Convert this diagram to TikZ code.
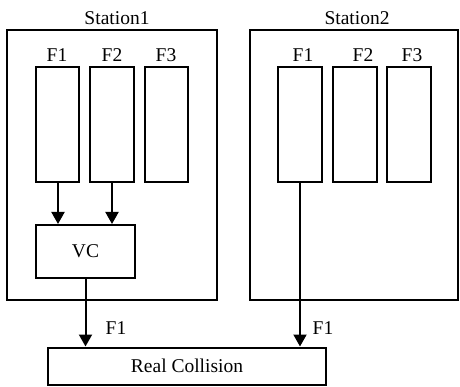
\documentclass[tikz,border=0pt]{standalone}
\usepackage{fontspec}
\setmainfont{Liberation Serif}
\usetikzlibrary{arrows.meta}
\begin{document}
\begin{tikzpicture}[x=1pt,y=-1pt,
  box/.style={draw, line width=2pt, inner sep=0pt},
  lbl/.style={inner sep=0pt, font=\fontsize{19.5}{22}\selectfont},
  arr/.style={line width=2pt, -{Triangle[length=12pt,width=13pt]}}]
\useasboundingbox (0,0) rectangle (460,387);
% stations
\node[box, minimum width=210pt, minimum height=270pt] (st1) at (112,165) {};
\node[box, minimum width=208pt, minimum height=270pt] (st2) at (354,165) {};
\node[lbl] (st1l) at (117,18) {Station1};
\node[lbl] (st2l) at (357,18) {Station2};
% frames station 1
\node[box, minimum width=43pt, minimum height=115pt] (a1) at (57.5,124.5) {};
\node[box, minimum width=44pt, minimum height=115pt] (a2) at (112,124.5) {};
\node[box, minimum width=43pt, minimum height=115pt] (a3) at (166.5,124.5) {};
\node[lbl] (a1l) at (57,55) {F1};
\node[lbl] (a2l) at (112,55) {F2};
\node[lbl] (a3l) at (166,55) {F3};
% frames station 2
\node[box, minimum width=44pt, minimum height=115pt] (b1) at (300,124.5) {};
\node[box, minimum width=44pt, minimum height=115pt] (b2) at (354.5,124.5) {};
\node[box, minimum width=44pt, minimum height=115pt] (b3) at (409,124.5) {};
\node[lbl] (b1l) at (303,55) {F1};
\node[lbl] (b2l) at (363,55) {F2};
\node[lbl] (b3l) at (412,55) {F3};
% VC
\node[box, minimum width=99pt, minimum height=53pt, font=\fontsize{19.5}{22}\selectfont] (vc) at (85.5,251.5) {VC};
% Real collision
\node[box, minimum width=278pt, minimum height=37pt, font=\fontsize{19.5}{22}\selectfont] (rc) at (187,366) {Real Collision};
% arrows
\coordinate (p1) at (58,182);
\coordinate (p2) at (112,182);
\draw[arr] (p1) -- (p1 |- vc.north);
\draw[arr] (p2) -- (p2 |- vc.north);
\draw[arr] (vc.south) -- (vc.south |- rc.north);
\draw[arr] (b1.south) -- (b1.south |- rc.north);
\node[lbl] (f1a) at (116,328) {F1};
\node[lbl] (f1b) at (323,328) {F1};
\end{tikzpicture}
\end{document}
